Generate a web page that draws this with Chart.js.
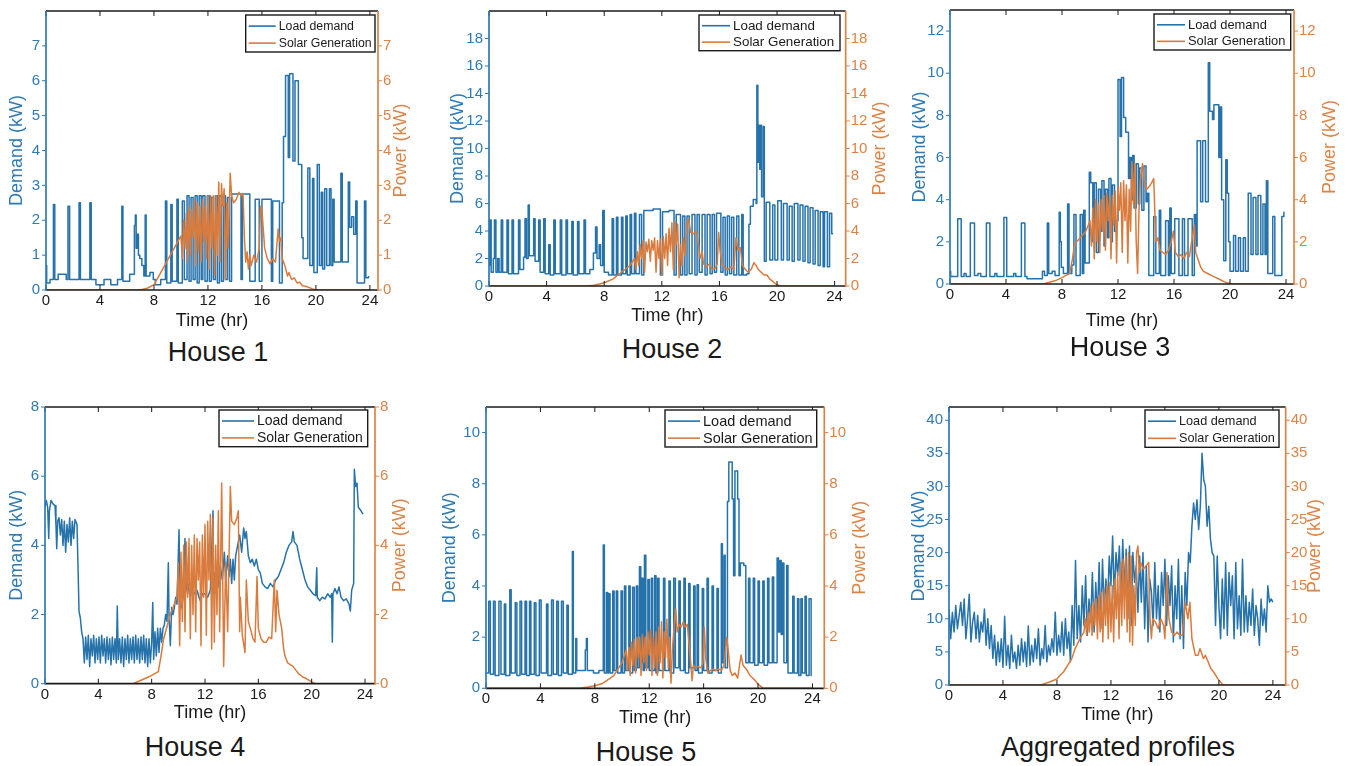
<!DOCTYPE html>
<html>
<head>
<meta charset="utf-8">
<script src="https://cdn.jsdelivr.net/npm/chart.js@4.4.1/dist/chart.umd.min.js"></script>
<style>
  html, body { margin: 0; padding: 0; background: #fff; }
  body { width: 1349px; height: 766px; position: relative; overflow: hidden;
         font-family: "Liberation Sans", Arial, Helvetica, sans-serif; }
  canvas.panel { position: absolute; }
  .caption { position: absolute; font-size: 27px; line-height: 1; color: #1a1a1a;
             transform: translate(-50%, -50%); white-space: nowrap; }
</style>
</head>
<body>
<script>
// ---------------- data (time in hours, power in kW) ----------------
const hourTicks = [0, 4, 8, 12, 16, 20, 24];
const seriesLabels = ['Load demand', 'Solar Generation'];

// House 1 — [t, value, t, value, ...]; load is held until the next time stamp
const house1Ticks = [0, 1, 2, 3, 4, 5, 6, 7];
const house1Load = [0,0.7, 0.05,0.2, 0.3,0.3, 0.55,2.45, 0.65,0.3, 0.9,0.45, 1.5,0.3, 1.63,2.4, 1.75,0.3, 2.45,2.5, 2.55,0.3,
  3.25,2.5, 3.35,0.3, 3.7,0.15, 4.3,0.3, 4.8,0.15, 5.3,0.3, 5.62,2.4, 5.7,0.25, 6.2,0.45, 6.55,1.85, 6.62,2.15, 6.68,1.2,
  6.75,1.6, 6.85,1.0, 6.95,0.9, 7.1,0.7, 7.25,0.4, 7.35,2.15, 7.42,0.4, 7.7,0.5, 7.95,0.3, 8.1,0.15, 8.5,0.3, 8.85,2.55,
  8.95,0.2, 9.25,2.45, 9.35,0.25, 9.7,2.6, 9.8,0.2, 10.1,2.55, 10.25,0.3, 10.45,2.7, 10.6,0.25, 10.75,2.65, 10.9,0.3,
  11.05,2.7, 11.2,0.2, 11.35,2.7, 11.5,0.3, 11.62,2.7, 11.78,0.25, 11.95,2.7, 12.1,0.25, 12.25,2.65, 12.4,0.3, 12.55,2.7,
  12.7,0.2, 12.85,2.7, 13.0,0.25, 13.15,2.7, 13.3,0.3, 13.45,2.65, 13.6,0.25, 13.75,2.75, 14.45,0.3, 14.55,2.75, 15.1,0.25,
  15.5,2.6, 15.8,0.25, 16.0,2.6, 16.7,0.25, 16.8,2.55, 17.3,0.2, 17.5,2.5, 17.6,4.4, 17.75,6.15, 17.95,3.8, 18.05,6.2,
  18.3,3.7, 18.45,6.0, 18.7,3.6, 18.95,1.5, 19.05,0.9, 19.4,3.5, 19.55,0.7, 19.75,3.2, 19.85,0.5, 20.1,3.6, 20.25,0.7,
  20.4,2.8, 20.5,0.6, 20.65,2.9, 20.8,0.7, 21.0,2.9, 21.12,0.7, 21.25,2.6, 21.35,0.8, 21.85,3.35, 21.95,0.8, 22.4,3.1,
  22.5,1.8, 22.65,2.1, 22.8,1.6, 22.95,2.55, 23.05,0.2, 23.6,2.55, 23.7,0.35, 23.9,0.4];
const house1Solar = [0,0, 6.95,0, 7.5,0.05, 8.0,0.15, 8.5,0.5, 9.0,0.85, 9.5,1.2, 10.0,1.55, 10.1,0.9, 10.2,2.0, 10.3,1.2,
  10.4,2.2, 10.5,0.8, 10.6,2.4, 10.7,1.0, 10.8,2.3, 10.9,1.5, 11.0,2.6, 11.1,0.7, 11.2,2.5, 11.3,1.1, 11.4,2.4, 11.5,0.8,
  11.6,2.6, 11.7,1.4, 11.8,2.4, 11.9,0.9, 12.0,2.7, 12.1,0.6, 12.2,2.7, 12.3,1.2, 12.4,2.7, 12.5,0.4, 12.6,2.7, 12.7,1.0,
  12.8,3.1, 12.9,0.8, 13.0,3.05, 13.1,2.4, 13.2,2.9, 13.3,0.3, 13.4,2.5, 13.5,1.2, 13.65,3.35, 13.75,2.7, 13.9,2.5,
  14.1,2.6, 14.3,2.8, 14.5,2.7, 14.6,2.75, 14.7,1.5, 14.8,0.8, 14.9,1.1, 15.0,0.6, 15.1,1.0, 15.2,0.7, 15.4,1.0, 15.6,0.8,
  15.8,1.2, 15.9,2.4, 16.0,2.3, 16.2,1.2, 16.4,0.9, 16.6,0.75, 16.8,0.9, 17.0,0.8, 17.2,1.75, 17.3,1.4, 17.4,1.5, 17.5,0.9,
  17.7,0.7, 17.9,0.4, 18.0,0.5, 18.2,0.3, 18.4,0.35, 18.6,0.2, 18.8,0.22, 19.0,0.12, 19.3,0.1, 19.7,0.04, 20.0,0, 24,0];

// House 2
const house2Ticks = [0, 2, 4, 6, 8, 10, 12, 14, 16, 18];
const house2Load = [0,1.5, 0.05,4.8, 0.15,1.0, 0.3,2.0, 0.38,4.8, 0.48,1.0, 0.6,2.0, 0.7,1.0, 0.85,4.8, 0.95,1.0, 1.25,4.8,
  1.35,0.9, 1.6,4.8, 1.7,0.9, 2.05,4.8, 2.15,1.2, 2.4,2.1, 2.5,4.9, 2.6,2.0, 2.72,5.9, 2.8,2.2, 3.1,4.9, 3.2,1.8, 3.45,4.8,
  3.55,1.0, 3.8,4.9, 3.9,0.9, 4.15,3.0, 4.25,0.8, 4.5,4.8, 4.6,0.9, 4.95,4.8, 5.05,0.8, 5.35,4.8, 5.45,0.9, 5.75,4.7,
  5.85,0.8, 6.15,4.7, 6.25,0.9, 6.6,4.8, 6.7,0.9, 7.0,1.2, 7.25,2.4, 7.4,4.3, 7.5,2.0, 7.65,3.0, 7.75,1.5, 7.9,5.5, 8.0,1.0,
  8.3,0.8, 8.55,4.9, 8.65,0.8, 8.85,5.0, 8.95,0.8, 9.2,5.0, 9.3,0.9, 9.5,5.1, 9.6,0.8, 9.8,5.2, 9.9,0.9, 10.1,5.3, 10.2,0.9,
  10.45,5.2, 10.6,0.8, 10.75,5.5, 11.4,5.6, 11.9,0.8, 12.05,5.4, 12.5,5.5, 12.85,0.8, 13.0,5.2, 13.3,0.8, 13.45,5.1,
  13.6,0.8, 13.75,5.1, 13.9,0.9, 14.1,5.2, 14.3,0.8, 14.45,5.2, 14.6,1.0, 14.8,5.2, 15.0,0.8, 15.15,5.2, 15.35,0.9,
  15.5,5.2, 15.65,1.0, 15.8,5.3, 16.1,1.0, 16.25,5.0, 16.4,0.8, 16.55,5.1, 16.7,0.9, 16.85,5.0, 17.0,0.8, 17.2,5.1,
  17.35,0.8, 17.55,5.2, 17.65,0.8, 17.9,0.9, 18.05,4.5, 18.15,5.8, 18.35,6.3, 18.55,6.0, 18.6,14.6, 18.67,9.0, 18.72,11.7,
  18.8,8.5, 18.87,11.7, 18.93,6.5, 19.05,11.6, 19.12,1.8, 19.25,6.1, 19.5,1.9, 19.7,5.9, 19.85,1.9, 20.05,6.2, 20.3,1.9,
  20.45,6.0, 20.7,1.9, 20.85,5.8, 21.05,1.8, 21.2,6.0, 21.45,1.9, 21.6,5.9, 21.8,1.8, 21.95,5.8, 22.15,1.7, 22.3,5.7,
  22.5,1.6, 22.65,5.5, 22.85,1.5, 23.0,5.4, 23.2,1.4, 23.3,5.4, 23.5,1.4, 23.65,5.3, 23.8,3.8, 23.9,3.8];
const house2Solar = [0,0, 6.8,0, 7.3,0.05, 7.9,0.2, 8.6,0.5, 9.2,1.0, 9.8,1.5, 10.1,2.0, 10.2,1.2, 10.3,2.5, 10.4,1.5,
  10.5,3.0, 10.6,2.0, 10.7,3.3, 10.8,1.0, 10.9,3.2, 11.0,2.5, 11.1,3.4, 11.2,1.8, 11.3,3.3, 11.4,2.6, 11.5,3.5, 11.6,1.0,
  11.7,3.3, 11.8,2.0, 11.9,3.4, 12.0,0.8, 12.1,3.6, 12.2,2.0, 12.3,3.8, 12.4,1.5, 12.5,4.2, 12.6,2.5, 12.7,4.6, 12.8,1.2,
  12.9,4.7, 13.0,3.0, 13.1,4.5, 13.2,0.6, 13.3,3.0, 13.4,1.5, 13.5,3.5, 13.6,2.2, 13.75,4.5, 13.85,4.9, 14.0,3.9, 14.2,3.8,
  14.4,4.0, 14.55,3.0, 14.65,2.0, 14.8,2.5, 14.9,1.6, 15.1,1.4, 15.3,1.6, 15.5,1.2, 15.7,1.3, 15.85,1.6, 15.95,3.9,
  16.05,2.5, 16.2,1.6, 16.4,1.3, 16.6,1.2, 16.8,1.4, 17.0,1.2, 17.15,3.5, 17.3,2.6, 17.45,2.8, 17.6,1.5, 17.8,1.2, 18.0,1.0,
  18.2,1.2, 18.4,1.7, 18.55,1.5, 18.7,1.2, 18.9,1.0, 19.1,0.8, 19.3,0.8, 19.5,0.5, 19.7,0.35, 19.9,0.15, 20.2,0, 24,0];

// House 3
const house3Ticks = [0, 2, 4, 6, 8, 10, 12];
const house3Load = [0,0.6, 0.05,0.35, 0.55,3.1, 0.8,0.35, 1.0,0.5, 1.15,0.35, 1.45,2.9, 1.75,0.4, 2.0,0.5, 2.2,0.35,
  2.6,2.9, 2.85,0.35, 3.2,0.5, 3.35,0.35, 3.85,3.15, 4.05,0.35, 4.55,0.5, 4.7,0.35, 5.1,2.9, 5.35,0.35, 5.5,0.25, 6.6,0.6,
  6.75,0.4, 6.95,2.9, 7.05,0.5, 7.3,0.6, 7.5,0.4, 7.8,3.4, 7.88,2.0, 7.95,0.8, 8.1,0.5, 8.4,3.8, 8.5,0.5, 8.7,0.9, 8.85,3.3,
  9.0,0.4, 9.3,3.3, 9.45,0.5, 9.55,3.5, 9.65,1.0, 9.95,5.3, 10.05,4.8, 10.2,2.0, 10.3,4.8, 10.45,1.5, 10.6,4.5, 10.75,2.5,
  10.85,4.9, 11.0,1.8, 11.1,4.5, 11.25,2.2, 11.35,5.0, 11.5,2.0, 11.6,4.7, 11.75,2.5, 11.9,3.0, 12.0,9.7, 12.15,7.0,
  12.25,9.8, 12.4,7.9, 12.55,7.2, 12.75,5.0, 12.85,6.0, 12.95,4.0, 13.05,6.1, 13.15,3.6, 13.3,5.7, 13.45,3.8, 13.55,5.5,
  13.7,3.5, 13.85,5.6, 14.0,3.9, 14.1,4.3, 14.2,0.4, 14.55,3.2, 14.7,0.5, 14.95,3.5, 15.05,0.4, 15.4,3.0, 15.6,0.4,
  15.7,3.6, 15.8,0.5, 16.05,3.1, 16.35,0.4, 16.6,3.1, 16.75,0.4, 17.0,3.1, 17.3,0.4, 17.45,3.3, 17.55,1.8, 17.65,6.8,
  17.9,3.9, 18.05,6.8, 18.25,3.9, 18.45,10.5, 18.55,8.2, 18.75,7.8, 18.85,8.5, 19.2,6.0, 19.3,8.4, 19.4,4.0, 19.55,1.1,
  19.7,5.9, 19.8,4.3, 19.9,2.0, 20.0,0.6, 20.25,2.3, 20.4,0.6, 20.6,2.2, 20.75,0.6, 20.95,2.2, 21.1,0.6, 21.3,4.3, 21.5,1.4,
  21.65,4.1, 21.85,1.4, 22.0,4.2, 22.2,1.4, 22.35,3.8, 22.5,1.4, 22.6,4.9, 22.7,0.5, 23.05,3.2, 23.2,0.4, 23.7,3.2,
  23.85,3.4, 23.9,3.4];
const house3Solar = [0,0, 6.65,0, 7.5,0.15, 8.0,0.3, 8.55,0.5, 8.75,1.2, 8.9,1.9, 9.3,2.2, 9.7,2.5, 10.0,3.0, 10.1,1.8,
  10.2,3.6, 10.3,1.2, 10.4,4.0, 10.5,2.0, 10.6,3.8, 10.7,1.5, 10.8,4.0, 10.9,2.5, 11.0,4.2, 11.1,1.6, 11.2,4.3, 11.3,3.0,
  11.4,4.1, 11.5,1.2, 11.6,4.2, 11.7,2.8, 11.8,4.4, 11.9,1.0, 12.0,4.6, 12.1,3.5, 12.2,4.8, 12.3,1.5, 12.4,4.9, 12.5,3.0,
  12.6,4.7, 12.7,1.0, 12.8,4.5, 12.9,2.5, 13.0,5.8, 13.1,3.8, 13.2,5.7, 13.3,2.0, 13.4,0.5, 13.5,3.5, 13.6,5.0, 13.75,5.7,
  13.9,4.8, 14.05,4.5, 14.2,4.6, 14.4,4.8, 14.55,5.0, 14.7,2.0, 14.85,2.2, 15.0,1.6, 15.2,1.5, 15.4,1.4, 15.6,1.6, 15.8,2.0,
  15.95,2.5, 16.1,1.5, 16.3,1.3, 16.5,1.4, 16.7,1.2, 16.9,1.5, 17.1,1.3, 17.3,2.2, 17.45,2.8, 17.55,1.5, 17.7,1.2, 17.9,0.8,
  18.1,0.6, 18.4,0.5, 18.7,0.4, 19.0,0.3, 19.3,0.2, 19.6,0.1, 20.1,0, 24,0];

// House 4
const house4Ticks = [0, 2, 4, 6, 8];
const house4Load = [0,5.1, 0.1,5.3, 0.2,5.1, 0.28,4.2, 0.33,5.0, 0.45,5.3, 0.6,5.2, 0.75,5.15, 0.82,4.6, 0.88,3.9,
  0.95,4.7, 1.05,4.8, 1.15,4.3, 1.25,4.75, 1.35,4.0, 1.45,4.7, 1.55,3.8, 1.65,4.6, 1.75,4.1, 1.85,4.8, 1.95,4.0, 2.05,4.7,
  2.15,4.2, 2.25,4.75, 2.4,4.6, 2.5,3.0, 2.55,2.1, 2.65,1.9, 2.75,1.5, 2.85,1.3, 2.95,0.6, 3.05,1.35, 3.15,0.7, 3.25,1.4,
  3.35,0.5, 3.45,1.3, 3.55,0.8, 3.65,1.4, 3.75,0.6, 3.85,1.3, 3.95,0.7, 4.05,1.35, 4.15,0.6, 4.25,1.4, 4.35,0.8, 4.45,1.3,
  4.55,0.6, 4.65,1.35, 4.75,0.7, 4.85,1.3, 4.95,0.55, 5.05,1.35, 5.15,0.7, 5.25,1.3, 5.35,0.6, 5.42,2.25, 5.5,0.7, 5.6,1.3,
  5.7,0.6, 5.8,1.35, 5.9,0.5, 6.0,1.3, 6.1,0.7, 6.2,1.4, 6.3,0.6, 6.4,1.3, 6.5,0.7, 6.6,1.35, 6.7,0.6, 6.8,1.4, 6.9,0.7,
  7.0,1.3, 7.1,0.6, 7.2,1.35, 7.3,0.7, 7.4,1.4, 7.5,0.6, 7.6,1.3, 7.7,0.5, 7.8,1.3, 7.9,0.6, 8.0,1.2, 8.08,2.35, 8.15,0.7,
  8.25,1.5, 8.35,0.8, 8.45,1.6, 8.55,0.9, 8.65,1.6, 8.75,1.2, 8.85,1.6, 8.95,1.7, 9.05,2.0, 9.15,1.8, 9.25,3.5, 9.3,2.0,
  9.4,1.1, 9.5,2.2, 9.6,2.0, 9.7,2.2, 9.8,2.5, 9.9,2.3, 10.05,4.45, 10.15,2.3, 10.25,2.2, 10.35,2.5, 10.5,4.2, 10.6,2.8,
  10.7,2.6, 10.8,2.9, 10.9,2.5, 11.0,2.7, 11.2,2.6, 11.4,2.7, 11.55,2.5, 11.65,2.4, 11.8,2.6, 12.0,2.6, 12.2,2.5, 12.4,2.7,
  12.6,5.0, 12.65,2.6, 12.75,3.2, 12.85,2.6, 12.95,3.6, 13.05,2.8, 13.15,3.4, 13.3,3.0, 13.45,3.8, 13.55,3.0, 13.7,3.7,
  13.8,3.1, 13.9,3.6, 14.0,2.9, 14.1,3.6, 14.2,3.0, 14.3,3.7, 14.45,4.0, 14.6,4.3, 14.75,3.8, 14.9,4.5, 15.0,4.2, 15.1,4.4,
  15.25,3.7, 15.4,3.5, 15.55,3.6, 15.7,3.4, 15.85,3.6, 16.0,3.3, 16.15,3.2, 16.3,2.9, 16.5,2.8, 16.7,2.75, 16.9,2.9,
  17.1,2.8, 17.3,3.0, 17.5,3.1, 17.7,3.3, 17.9,3.5, 18.1,3.8, 18.3,4.0, 18.5,4.1, 18.6,4.4, 18.7,4.1, 18.9,4.0, 19.1,3.6,
  19.3,3.3, 19.5,3.0, 19.7,2.8, 19.9,2.7, 20.1,2.6, 20.3,2.55, 20.38,3.35, 20.42,2.5, 20.6,2.4, 20.8,2.5, 21.0,2.45,
  21.2,2.6, 21.4,2.5, 21.5,2.6, 21.55,1.2, 21.6,2.6, 21.75,2.75, 21.9,2.6, 22.05,2.8, 22.2,2.5, 22.4,2.4, 22.6,2.45,
  22.8,2.3, 22.9,2.1, 23.0,2.7, 23.15,2.9, 23.2,6.2, 23.3,5.7, 23.4,5.8, 23.5,5.1, 23.7,5.0, 23.85,4.9];
const house4Solar = [0,0, 6.6,0, 7.2,0.1, 7.8,0.2, 8.5,0.35, 8.7,0.8, 8.9,1.3, 9.4,2.0, 9.9,2.5, 10.0,3.5, 10.1,1.1,
  10.2,3.8, 10.3,1.8, 10.4,4.0, 10.5,1.5, 10.6,4.1, 10.7,2.5, 10.8,4.2, 10.9,1.3, 11.0,4.0, 11.1,2.0, 11.2,4.3, 11.3,1.5,
  11.4,4.2, 11.5,3.0, 11.6,4.1, 11.7,1.1, 11.8,4.3, 11.9,2.5, 12.0,4.6, 12.1,1.4, 12.2,4.7, 12.3,3.0, 12.4,4.9, 12.5,1.0,
  12.6,4.8, 12.7,1.2, 12.8,4.0, 12.9,2.0, 13.0,5.0, 13.1,1.5, 13.25,5.8, 13.4,0.5, 13.55,3.5, 13.7,1.5, 13.9,5.7, 14.0,4.7,
  14.2,4.6, 14.4,4.8, 14.5,5.0, 14.6,1.5, 14.65,2.5, 14.8,1.4, 15.0,0.9, 15.1,3.0, 15.25,1.8, 15.4,1.6, 15.6,1.3, 15.75,1.2,
  15.9,3.1, 16.0,1.6, 16.2,1.3, 16.4,1.2, 16.6,1.2, 16.8,1.35, 17.0,1.3, 17.2,3.0, 17.3,1.5, 17.4,2.7, 17.55,2.0, 17.75,1.6,
  17.9,1.0, 18.0,0.8, 18.2,0.6, 18.4,0.55, 18.6,0.5, 18.8,0.4, 19.0,0.3, 19.3,0.2, 19.6,0.15, 20.0,0.05, 20.25,0, 24,0];

// House 5
const house5Ticks = [0, 2, 4, 6, 8, 10];
const house5Load = [0,0.6, 0.2,3.4, 0.32,0.55, 0.55,3.4, 0.67,0.5, 0.95,3.4, 1.1,0.55, 1.35,3.3, 1.45,0.5, 1.75,3.85,
  1.85,0.6, 2.15,3.35, 2.27,0.5, 2.5,3.4, 2.62,0.55, 2.87,3.4, 2.98,0.5, 3.2,3.4, 3.3,0.55, 3.55,3.35, 3.67,0.5, 3.92,3.45,
  4.05,0.6, 4.45,3.3, 4.55,0.5, 4.82,3.45, 4.95,0.55, 5.2,3.4, 5.32,0.5, 5.55,3.4, 5.68,0.6, 5.95,3.25, 6.05,0.55, 6.35,5.35,
  6.42,0.6, 6.6,1.95, 6.67,0.7, 7.3,1.5, 7.38,1.95, 7.45,0.7, 7.9,0.6, 8.3,0.7, 8.62,5.6, 8.7,0.6, 8.85,3.75, 8.95,0.6,
  9.02,3.7, 9.12,0.6, 9.32,3.8, 9.42,0.7, 9.58,3.8, 9.68,0.6, 9.93,3.8, 10.03,0.6, 10.18,4.0, 10.28,0.7, 10.5,4.0, 10.6,0.6,
  10.78,3.95, 10.9,0.7, 11.05,4.0, 11.15,0.8, 11.28,4.75, 11.38,1.0, 11.45,4.3, 11.55,0.7, 11.65,5.2, 11.75,0.8, 11.9,4.25,
  12.0,0.7, 12.15,4.3, 12.25,0.7, 12.4,4.4, 12.5,0.6, 12.62,4.3, 12.72,0.7, 13.05,4.3, 13.15,0.7, 13.45,4.2, 13.55,0.6,
  13.8,4.3, 13.92,0.8, 14.18,4.2, 14.28,0.7, 14.55,4.3, 14.65,0.6, 14.9,4.1, 15.0,0.8, 15.27,4.0, 15.37,0.7, 15.52,4.05,
  15.62,0.6, 15.9,3.9, 16.0,0.7, 16.25,4.3, 16.35,0.6, 16.62,4.0, 16.72,0.7, 16.98,3.9, 17.08,0.6, 17.3,5.65, 17.38,1.0,
  17.5,5.2, 17.58,0.8, 17.75,7.3, 17.85,8.85, 18.1,7.4, 18.2,4.4, 18.3,8.5, 18.5,7.4, 18.6,4.4, 18.7,4.9, 18.95,4.8,
  19.1,1.0, 19.3,4.3, 19.4,1.0, 19.65,4.3, 19.75,0.9, 20.0,4.2, 20.1,1.0, 20.35,4.2, 20.45,0.9, 20.7,4.3, 20.8,1.0,
  21.05,4.35, 21.15,1.0, 21.4,5.1, 21.5,2.2, 21.6,5.0, 21.7,2.1, 21.8,4.9, 21.9,1.0, 22.1,4.8, 22.2,0.6, 22.55,3.6,
  22.65,0.6, 22.9,3.5, 23.0,0.5, 23.15,3.5, 23.25,0.6, 23.45,3.6, 23.55,0.5, 23.75,3.5, 23.9,0.5, 23.95,0.5];
const house5Solar = [0,0, 6.9,0, 7.5,0.05, 8.0,0.1, 8.6,0.2, 9.0,0.35, 9.4,0.5, 9.7,0.75, 10.0,1.0, 10.3,1.5, 10.4,0.7,
  10.5,1.6, 10.6,0.5, 10.7,1.8, 10.8,0.9, 10.9,1.9, 11.0,0.6, 11.1,2.0, 11.2,1.2, 11.3,2.0, 11.4,0.5, 11.5,2.1, 11.6,1.0,
  11.7,2.0, 11.8,0.7, 11.9,2.2, 12.0,1.3, 12.1,2.3, 12.2,0.5, 12.3,2.0, 12.4,0.8, 12.5,2.2, 12.6,0.5, 12.7,2.4, 12.8,1.0,
  12.9,2.6, 13.0,0.4, 13.1,2.2, 13.2,1.2, 13.3,2.7, 13.4,0.8, 13.5,2.0, 13.6,0.2, 13.7,1.5, 13.8,2.2, 13.95,3.1, 14.05,2.2,
  14.2,2.5, 14.35,2.4, 14.5,2.6, 14.65,2.4, 14.8,2.5, 14.95,1.6, 15.05,1.0, 15.15,0.3, 15.25,0.9, 15.4,0.8, 15.6,0.85,
  15.8,0.8, 15.95,1.0, 16.05,2.4, 16.15,1.2, 16.3,0.6, 16.5,0.7, 16.7,0.75, 16.9,0.7, 17.1,0.75, 17.3,0.7, 17.5,0.9,
  17.7,2.0, 17.8,1.5, 17.95,0.7, 18.1,0.5, 18.3,0.6, 18.5,0.4, 18.75,1.3, 18.9,0.9, 19.05,0.8, 19.2,0.7, 19.4,0.5, 19.6,0.4,
  19.8,0.3, 20.0,0.15, 20.4,0, 24,0];

// Aggregated profiles — load sampled every 7.5 minutes (one row per hour), solar as [t, value] pairs
const aggTicks = [0, 5, 10, 15, 20, 25, 30, 35, 40];
const aggLoadStep = 0.125;
const aggLoad = [
  11.5, 7.0, 11.0, 8.0, 12.0, 8.5, 10.5, 12.5,
  9.0, 13.0, 7.0, 10.0, 13.7, 6.5, 9.5, 11.0,
  7.0, 10.5, 6.5, 9.5, 8.0, 11.5, 6.0, 10.0,
  5.5, 9.0, 4.0, 7.5, 3.0, 6.5, 3.5, 7.0,
  2.7, 10.4, 3.0, 6.0, 2.5, 7.5, 3.5, 5.0,
  2.5, 6.0, 3.0, 7.0, 3.5, 6.5, 2.8, 8.9,
  3.0, 6.0, 3.5, 7.0, 4.0, 8.5, 3.0, 5.5,
  4.0, 9.0, 3.5, 6.0, 4.5, 7.0, 5.0, 11.0,
  4.5, 7.5, 5.0, 9.5, 4.5, 10.0, 5.5, 8.0,
  3.5, 12.0, 6.0, 18.8, 7.0, 12.0, 6.5, 15.0,
  9.0, 16.5, 7.5, 13.0, 9.5, 17.0, 8.0, 15.5,
  10.0, 18.5, 8.5, 19.0, 11.0, 16.0, 12.0, 19.5,
  15.0, 22.5, 13.0, 20.0, 16.5, 21.0, 12.5, 22.0,
  14.0, 20.5, 10.0, 21.0, 9.0, 20.0, 15.5, 18.0,
  11.0, 19.5, 12.5, 20.0, 8.5, 18.0, 6.5, 16.0,
  14.0, 9.0, 18.5, 10.0, 15.0, 8.0, 17.0, 12.0,
  19.0, 9.0, 16.5, 12.0, 18.0, 6.5, 15.0, 10.0,
  19.0, 7.0, 15.0, 5.5, 17.0, 12.0, 20.0, 18.5,
  24.0, 27.5, 25.0, 28.0, 23.5, 27.0, 35.0, 31.0,
  30.0, 24.0, 27.0, 22.0, 20.0, 19.5, 9.0, 19.5,
  12.0, 7.0, 16.0, 8.5, 18.5, 7.5, 17.0, 12.0,
  16.5, 7.0, 18.5, 8.5, 13.5, 7.5, 19.0, 8.0,
  13.5, 8.0, 12.5, 9.0, 14.5, 7.5, 12.0, 10.0,
  6.0, 13.0, 9.0, 11.5, 8.0, 15.0, 12.5, 13.0,
  12.5];
const aggSolar = [0,0, 6.8,0, 7.5,0.5, 8.0,0.9, 8.25,1.5, 8.5,2.0, 8.8,3.0, 9.1,4.0, 9.35,5.5, 9.7,7.0, 10.0,8.0,
  10.1,10.0, 10.2,7.5, 10.3,11.0, 10.4,8.0, 10.5,12.0, 10.6,7.5, 10.7,12.5, 10.8,9.0, 10.9,13.0, 11.0,7.0, 11.1,13.5,
  11.2,8.0, 11.3,14.0, 11.4,6.5, 11.5,14.5, 11.6,9.0, 11.7,15.0, 11.8,7.0, 11.9,15.5, 12.0,8.0, 12.1,15.0, 12.2,6.5,
  12.3,16.0, 12.4,10.0, 12.5,17.0, 12.6,7.0, 12.7,18.5, 12.8,9.0, 12.9,19.0, 13.0,10.0, 13.1,19.5, 13.2,8.0, 13.3,20.0,
  13.4,6.5, 13.5,19.5, 13.6,6.0, 13.7,15.0, 13.8,9.0, 13.9,20.0, 14.0,21.0, 14.1,17.0, 14.2,18.5, 14.4,17.5, 14.6,18.0,
  14.8,18.5, 14.9,10.0, 15.0,7.0, 15.1,10.0, 15.3,9.5, 15.5,8.5, 15.7,10.0, 15.9,9.0, 16.0,7.0, 16.15,17.0, 16.3,10.0,
  16.5,8.0, 16.7,7.5, 16.9,8.0, 17.1,7.5, 17.3,7.5, 17.5,12.5, 17.7,10.0, 17.85,12.5, 18.0,7.0, 18.25,4.5, 18.45,4.5,
  18.6,5.5, 18.85,4.0, 19.0,4.5, 19.2,3.5, 19.4,2.5, 19.6,2.0, 19.9,1.0, 20.3,0, 24,0];

// ---------------- helpers ----------------
function pairs(flat) {
  const out = [];
  for (let i = 0; i < flat.length; i += 2) out.push({ x: flat[i], y: flat[i + 1] });
  return out;
}
function sampled(values, step) {
  return values.map((v, i) => ({ x: i * step, y: v }));
}

// ---------------- styling & layout ----------------
const FONT = '"Liberation Sans", Arial, Helvetica, sans-serif';
const BLUE = '#2672ab';
const BLUE_TEXT = '#2f7ab4';
const ORANGE = '#d97b3c';
const ORANGE_TEXT = '#dc8448';
const INK = '#1a1a1a';
const TICK_FONT = 15;
const TITLE_FONT = 18;

const panels = [
  { caption: 'House 1', capX: 218, capY: 352, load: pairs(house1Load), solar: pairs(house1Solar), stepped: true,
    xMax: 24.6, yMax: 8, yTicks: house1Ticks, box: [46, 8, 378, 290], leftTitleX: 17, rightTitleX: 401.5, timeY: 321,
    legend: { x: 245.7, y: 15, w: 129.3, h: 37, font: 12.3, line: 27 } },
  { caption: 'House 2', capX: 672, capY: 349, load: pairs(house2Load), solar: pairs(house2Solar), stepped: true,
    xMax: 24.77, yMax: 20, yTicks: house2Ticks, box: [489, 8, 845.7, 286], leftTitleX: 457.5, rightTitleX: 880, timeY: 316,
    legend: { x: 699, y: 15, w: 141, h: 35.7, font: 13.4, line: 28 } },
  { caption: 'House 3', capX: 1120, capY: 347, load: pairs(house3Load), solar: pairs(house3Solar), stepped: true,
    xMax: 24.57, yMax: 13, yTicks: house3Ticks, box: [950, 7.3, 1294, 284], leftTitleX: 920, rightTitleX: 1330, timeY: 321,
    legend: { x: 1154, y: 14, w: 136.7, h: 36, font: 12.9, line: 28 } },
  { caption: 'House 4', capX: 195, capY: 747, load: pairs(house4Load), solar: pairs(house4Solar), stepped: false,
    xMax: 24.75, yMax: 8, yTicks: house4Ticks, box: [45, 404.3, 375, 683.7], leftTitleX: 17, rightTitleX: 400, timeY: 713,
    legend: { x: 219, y: 410, w: 148.7, h: 36.7, font: 14, line: 32 } },
  { caption: 'House 5', capX: 646, capY: 752, load: pairs(house5Load), solar: pairs(house5Solar), stepped: true,
    xMax: 24.87, yMax: 11, yTicks: house5Ticks, box: [486, 404.3, 824.3, 688.3], leftTitleX: 450, rightTitleX: 860, timeY: 718,
    legend: { x: 665, y: 410, w: 151.7, h: 37, font: 14.5, line: 32 } },
  { caption: 'Aggregated profiles', capX: 1118, capY: 747, load: sampled(aggLoad, aggLoadStep), solar: pairs(aggSolar), stepped: false,
    xMax: 24.95, yMax: 42, yTicks: aggTicks, box: [949, 404.3, 1285.7, 685], leftTitleX: 918.5, rightTitleX: 1315, timeY: 715,
    legend: { x: 1145, y: 410, w: 134, h: 37.3, font: 12.7, line: 28 } }
];

// Axis frame, tick marks, right-hand axis title and the in-plot legend box
const framePlugin = {
  id: 'frame',
  afterDatasetsDraw(chart, args, opts) {
    const { ctx, chartArea: a, scales } = chart;
    const seg = (x1, y1, x2, y2) => { ctx.beginPath(); ctx.moveTo(x1, y1); ctx.lineTo(x2, y2); ctx.stroke(); };
    ctx.save();
    // time ticks, pointing inward from bottom and top edges
    ctx.strokeStyle = INK; ctx.lineWidth = 1;
    hourTicks.forEach(v => {
      const x = scales.x.getPixelForValue(v);
      seg(x, a.bottom, x, a.bottom - 5);
      seg(x, a.top, x, a.top + 5);
    });
    // top and bottom edges
    ctx.lineWidth = 1.7;
    seg(a.left, a.top, a.right, a.top);
    seg(a.left, a.bottom, a.right, a.bottom);
    // left (demand) axis
    ctx.strokeStyle = BLUE_TEXT;
    seg(a.left, a.top, a.left, a.bottom + 0.8);
    ctx.lineWidth = 1;
    opts.yTicks.forEach(v => { const y = scales.y.getPixelForValue(v); seg(a.left, y, a.left - 4, y); });
    // right (power) axis
    ctx.strokeStyle = ORANGE_TEXT; ctx.lineWidth = 1.7;
    seg(a.right, a.top, a.right, a.bottom + 0.8);
    ctx.lineWidth = 1;
    opts.yTicks.forEach(v => { const y = scales.y1.getPixelForValue(v); seg(a.right, y, a.right + 4, y); });

    // right axis title, read bottom-to-top like the left one
    ctx.save();
    ctx.translate(opts.rightTitleX - opts.originX, (a.top + a.bottom) / 2);
    ctx.rotate(-Math.PI / 2);
    ctx.fillStyle = ORANGE_TEXT;
    ctx.font = TITLE_FONT + 'px ' + FONT;
    ctx.textAlign = 'center'; ctx.textBaseline = 'middle';
    ctx.fillText(opts.rightTitle, 0, 0);
    ctx.restore();

    // legend box
    const lg = opts.legend;
    const lx = lg.x - opts.originX, ly = lg.y - opts.originY;
    ctx.fillStyle = '#fff';
    ctx.fillRect(lx, ly, lg.w, lg.h);
    ctx.strokeStyle = INK; ctx.lineWidth = 1.4;
    ctx.strokeRect(lx, ly, lg.w, lg.h);
    ctx.font = lg.font + 'px ' + FONT;
    ctx.textBaseline = 'middle'; ctx.textAlign = 'left';
    chart.data.datasets.forEach((ds, i) => {
      const y = ly + lg.h * (i === 0 ? 0.3 : 0.76);
      ctx.strokeStyle = ds.borderColor; ctx.lineWidth = 1.6;
      seg(lx + 3, y, lx + 3 + lg.line, y);
      ctx.fillStyle = INK;
      ctx.fillText(ds.label, lx + 3 + lg.line + 3, y + 0.5);
    });
    ctx.restore();
  }
};

function buildPanel(p) {
  const [L, T, R, B] = p.box;
  const titleOffset = TITLE_FONT * 1.2 / 2 + 4;
  const left = Math.round(p.leftTitleX - titleOffset);
  const top = Math.round(T - 12);
  const width = Math.round(p.rightTitleX + titleOffset) - left;
  const height = Math.round(p.timeY + titleOffset) - top;
  const wl = L - left;
  const wr = width - wl - (R - L);
  const padTop = T - top;
  const hx = height - padTop - (B - T);

  const canvas = document.createElement('canvas');
  canvas.className = 'panel';
  canvas.width = width; canvas.height = height;
  canvas.style.left = left + 'px'; canvas.style.top = top + 'px';
  canvas.style.width = width + 'px'; canvas.style.height = height + 'px';
  document.body.appendChild(canvas);

  const cap = document.createElement('div');
  cap.className = 'caption';
  cap.textContent = p.caption;
  cap.style.left = p.capX + 'px'; cap.style.top = p.capY + 'px';
  document.body.appendChild(cap);

  const yTickList = s => { s.ticks = p.yTicks.map(v => ({ value: v })); };
  const tickFont = { size: TICK_FONT, family: FONT };
  const titleFont = { size: TITLE_FONT, family: FONT };

  new Chart(canvas, {
    type: 'line',
    data: {
      datasets: [
        { label: seriesLabels[0], data: p.load, yAxisID: 'y', borderColor: BLUE, borderWidth: 1.5,
          pointRadius: 0, stepped: p.stepped, tension: 0, order: 2, borderJoinStyle: 'round' },
        { label: seriesLabels[1], data: p.solar, yAxisID: 'y1', borderColor: ORANGE, borderWidth: 1.5,
          pointRadius: 0, tension: 0, order: 1, borderJoinStyle: 'round' }
      ]
    },
    options: {
      responsive: false, animation: false, devicePixelRatio: 1,
      layout: { padding: { top: padTop, left: 0, right: 0, bottom: 0 } },
      plugins: {
        legend: { display: false }, tooltip: { enabled: false },
        frame: { yTicks: p.yTicks, legend: p.legend, originX: left, originY: top,
                 rightTitle: 'Power (kW)', rightTitleX: p.rightTitleX }
      },
      scales: {
        x: {
          type: 'linear', min: 0, max: p.xMax,
          afterBuildTicks: s => { s.ticks = hourTicks.map(v => ({ value: v })); },
          afterFit: s => { s.height = hx; },
          grid: { display: false, drawTicks: false }, border: { display: false },
          ticks: { color: INK, font: tickFont, padding: 2, maxRotation: 0, autoSkip: false },
          title: { display: true, text: 'Time (hr)', color: INK, font: titleFont, padding: { top: 4, bottom: 4 } }
        },
        y: {
          position: 'left', min: 0, max: p.yMax,
          afterBuildTicks: yTickList,
          afterFit: s => { s.width = wl; },
          grid: { display: false, drawTicks: false }, border: { display: false },
          ticks: { color: BLUE_TEXT, font: tickFont, padding: 6, autoSkip: false },
          title: { display: true, text: 'Demand (kW)', color: BLUE_TEXT, font: titleFont, padding: { top: 4, bottom: 4 } }
        },
        y1: {
          position: 'right', min: 0, max: p.yMax,
          afterBuildTicks: yTickList,
          afterFit: s => { s.width = wr; },
          grid: { display: false, drawTicks: false }, border: { display: false },
          ticks: { color: ORANGE_TEXT, font: tickFont, padding: 5, autoSkip: false },
          title: { display: false }
        }
      }
    },
    plugins: [framePlugin]
  });
}

panels.forEach(buildPanel);
</script>
</body>
</html>
